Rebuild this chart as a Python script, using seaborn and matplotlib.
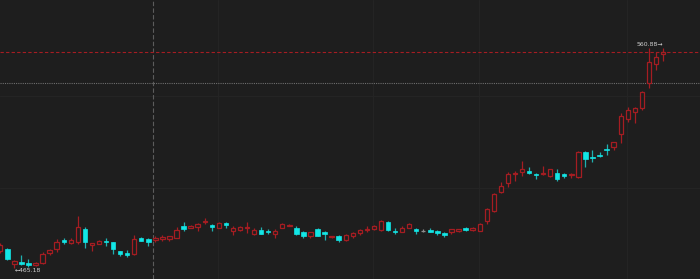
import numpy as np
import pandas as pd
import matplotlib
matplotlib.use("Agg")
import matplotlib.pyplot as plt
import seaborn as sns

opens = [472.47, 473.42, 467.18, 468.04, 467.61, 466.40, 467.35, 471.82, 473.42, 477.33,
         476.29, 476.72, 482.23, 475.29, 475.85, 476.89, 476.46, 472.47, 471.95, 471.26,
         478.46, 478.02, 477.33, 477.76, 477.76, 478.46, 483.53, 482.79, 482.97, 485.14,
         483.96, 482.79, 484.70, 481.49, 481.80, 482.53, 479.93, 481.93, 481.49, 480.19,
         482.79, 483.66, 482.79, 481.06, 479.32, 482.23, 480.80, 478.76, 479.19, 477.59,
         479.19, 480.49, 481.80, 482.23, 481.67, 485.40, 481.36, 481.06, 482.79, 482.23,
         481.49, 481.93, 481.36, 480.63, 480.80, 481.49, 482.66, 481.93, 481.49, 485.57,
         490.17, 498.28, 502.05, 505.96, 506.83, 507.39, 505.96, 506.22, 505.22, 506.52,
         506.22, 505.52, 504.92, 515.50, 513.46, 514.46, 516.93, 517.93, 523.31, 530.08,
         532.85, 534.85, 545.43, 553.81, 558.01]
closes = [475.29, 469.09, 468.35, 467.05, 466.61, 467.48, 471.26, 472.99, 476.72, 476.72,
          477.59, 483.10, 476.72, 476.03, 477.02, 476.46, 473.42, 471.38, 470.82, 477.76,
          477.15, 476.72, 478.20, 478.76, 479.06, 481.67, 482.23, 483.66, 484.40, 485.83,
          482.97, 484.83, 483.96, 482.66, 483.10, 482.97, 481.80, 480.19, 480.93, 481.49,
          484.27, 484.10, 479.93, 479.06, 480.80, 479.32, 479.93, 479.19, 477.33, 479.50,
          480.63, 481.80, 482.23, 483.40, 485.70, 481.93, 481.06, 482.79, 484.40, 481.49,
          481.49, 481.06, 480.63, 479.76, 482.10, 482.23, 481.80, 482.66, 484.40, 490.78,
          497.41, 500.88, 505.96, 506.39, 508.13, 506.39, 505.52, 506.52, 508.13, 503.92,
          505.09, 506.09, 515.50, 512.46, 513.03, 514.03, 516.50, 519.84, 531.38, 533.98,
          534.59, 541.53, 554.54, 556.97, 558.88]
highs = [476.16, 474.12, 468.65, 470.95, 469.09, 468.13, 472.38, 473.42, 477.89, 478.20,
         478.20, 487.87, 483.10, 476.37, 477.46, 478.33, 476.72, 472.90, 473.12, 479.63,
         478.89, 478.46, 479.06, 479.63, 479.19, 483.10, 485.14, 483.96, 484.83, 487.13,
         484.40, 485.14, 485.27, 483.40, 483.66, 485.14, 482.45, 482.97, 482.10, 482.10,
         484.96, 484.40, 483.66, 481.36, 481.06, 482.79, 481.15, 479.32, 479.63, 479.93,
         480.93, 482.23, 483.40, 483.96, 486.00, 485.70, 482.53, 483.40, 484.96, 482.45,
         482.23, 482.79, 481.67, 481.06, 482.36, 482.36, 482.97, 482.97, 484.70, 491.47,
         497.98, 502.49, 506.83, 507.39, 511.73, 508.99, 506.39, 509.56, 508.39, 508.13,
         506.65, 506.65, 516.07, 516.07, 516.50, 515.63, 519.10, 519.97, 532.42, 535.28,
         534.94, 541.88, 560.62, 559.14, 560.88]
lows = [471.82, 468.78, 465.18, 466.61, 465.75, 466.18, 467.05, 470.95, 472.38, 475.85,
        475.59, 475.85, 473.86, 472.82, 475.51, 474.99, 471.52, 470.73, 470.08, 470.95,
        476.81, 474.99, 476.46, 477.15, 477.15, 478.20, 481.36, 482.53, 481.49, 484.27,
        481.36, 482.53, 482.53, 479.63, 481.49, 480.71, 479.63, 479.93, 479.93, 478.20,
        482.45, 483.40, 479.63, 478.46, 478.46, 479.06, 477.46, 478.20, 476.72, 477.02,
        478.20, 479.63, 480.80, 481.93, 481.36, 481.36, 479.93, 480.80, 482.45, 479.93,
        480.80, 480.80, 479.63, 478.76, 479.93, 481.06, 481.49, 481.49, 481.15, 484.40,
        489.82, 497.72, 500.58, 503.18, 505.22, 506.09, 503.92, 505.79, 504.92, 503.18,
        504.22, 504.22, 504.35, 508.91, 511.42, 513.46, 514.33, 516.63, 519.41, 528.52,
        528.34, 533.72, 543.27, 551.20, 555.11]

high_label = "560.88\u2192"
low_label = "\u2190465.18"
crosshair_idx = 21.67
crosshair_price = 545.43
grid_prices = [500, 540]
grid_idx = [30.9, 52.9, 67.9, 88.9]

BG = "#1e1e1e"
GRID = "#242424"
UP = "#a51d22"
DOWN = "#12e6e6"
DOWN_WICK = "#1fb0b0"
DOJI = "#8c8c8c"

sns.set_theme(style="dark", rc={"axes.facecolor": BG, "figure.facecolor": BG,
                                "savefig.facecolor": BG})

df = pd.DataFrame({"open": opens, "high": highs, "low": lows, "close": closes})
df["idx"] = np.arange(len(df))
df["dir"] = np.where(df["close"] > df["open"], "up",
                     np.where(df["close"] < df["open"], "down", "flat"))

fig = plt.figure(figsize=(7, 2.79), dpi=100)
ax = fig.add_axes([0, 0, 1, 1])
ax.set_facecolor(BG)

for p in grid_prices:
    ax.axhline(p, color=GRID, lw=0.8, zorder=0)
for g in grid_idx:
    ax.axvline(g, color=GRID, lw=0.8, zorder=0)

W = 0.62
up = df[df["dir"] == "up"]
dn = df[df["dir"] == "down"]
fl = df[df["dir"] == "flat"]

ax.vlines(up["idx"], up["low"], up["high"], color=UP, lw=0.9, zorder=2)
ax.vlines(dn["idx"], dn["low"], dn["high"], color=DOWN_WICK, lw=0.9, zorder=2)
ax.vlines(fl["idx"], fl["low"], fl["high"], color=DOJI, lw=0.9, zorder=2)

ax.bar(up["idx"], up["close"] - up["open"], bottom=up["open"], width=W,
       facecolor=BG, edgecolor=UP, linewidth=0.9, zorder=3)
ax.bar(dn["idx"], dn["open"] - dn["close"], bottom=dn["close"], width=W,
       facecolor=DOWN, edgecolor=DOWN, linewidth=0.5, zorder=3)
ax.hlines(fl["close"], fl["idx"] - W / 2, fl["idx"] + W / 2, color=DOJI, lw=0.9, zorder=3)

# crosshair
ax.axvline(crosshair_idx, color="#5c5c5c", lw=0.8, dashes=(4, 2), zorder=1)
ax.axhline(crosshair_price, color="#6e6e6e", lw=0.8, dashes=(1, 1), zorder=1)

# last price line
ax.axhline(df["close"].iloc[-1], color=UP, lw=0.8, dashes=(3, 2), zorder=1)

# high / low marks
hi_i = int(df["high"].idxmax())
lo_i = int(df["low"].idxmin())
ax.text(hi_i, df["high"].iloc[hi_i] + 1.5, high_label, ha="right", va="center",
        fontsize=4.4, color="#d0d0d0", zorder=5)
ax.text(lo_i, df["low"].iloc[lo_i] - 1.0, low_label, ha="left", va="center",
        fontsize=4.4, color="#d0d0d0", zorder=5)

ax.set_xlim(-0.04, 99.25)
ax.set_ylim(460.54, 581.57)
ax.set_xticks([])
ax.set_yticks([])
ax.grid(False)
sns.despine(ax=ax, left=True, bottom=True)

fig.savefig("out.png", dpi=100)
